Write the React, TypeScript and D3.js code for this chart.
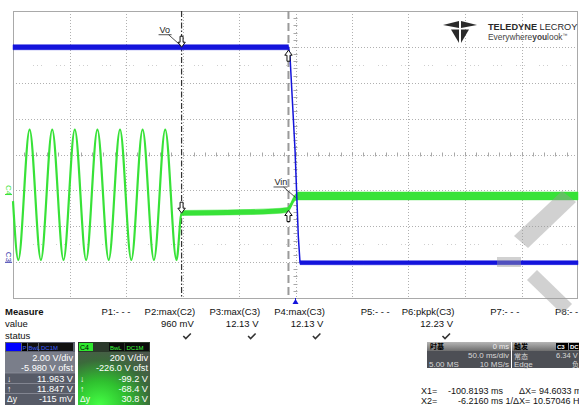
import React from "react";
import * as d3 from "d3";

// ---- scope settings ----
const timeDomain: [number, number] = [-250, 250]; // ms (50 ms/div)
const divDomain: [number, number] = [-4, 4];
const c3VoltsPerDiv = 2.0;
const c3Offset = -5.98;
const c4MvPerDiv = 200;
const c4Offset = -226;
const cursorX1 = -100.8193;
const cursorX2 = -6.216;
const triggerTime = 0;

// ---- C3 (Vo) trace, volts ----
const c3Time = [-250, -150, -60, -6.2, -4.9, -0.4, 2.5, 4.0, 60, 150, 250];
const c3Volts = [11.96, 11.96, 11.96, 11.96, 11.5, 6.2, 1.4, -0.05, -0.06, -0.05, -0.05];
const c3Band = [0.14, 0.14, 0.14, 0.14, 0, 0, 0, 0.11, 0.11, 0.11, 0.11];

// ---- C4 (Vin) trace, mV ----
const c4Time = [-250, -245.3, -235.3, -225.3, -215.3, -205.3, -195.3, -185.3, -175.3, -165.3, -155.3, -145.3, -135.3, -125.3, -115.3, -105.3, -100.8, -60, -20, -7.5, -4.9, -3.1, -1.3, 0.4, 2.2, 100, 250];
const c4Mv = [-34, -362, 365, -362, 365, -362, 365, -362, 365, -362, 365, -362, 365, -362, 365, -362, -100, -97, -90, -84, -66, -44, -22, -11, -5, -5, -5];
const c4Band = [0, 0, 0, 0, 0, 0, 0, 0, 0, 0, 0, 0, 0, 0, 0, 0, 14, 14, 14, 14, 14, 15, 16, 18, 22, 22, 22];

// ---- measurement table ----
const measureLabels = ["P1:- - -", "P2:max(C2)", "P3:max(C3)", "P4:max(C3)", "P5:- - -", "P6:pkpk(C3)", "P7:- - -", "P8:- - -"];
const measureValues = ["", "960 mV", "12.13 V", "12.13 V", "", "12.23 V", "", ""];
const measureStatus = [false, true, true, true, false, true, false, false];

// ---- channel descriptors ----
const c3Desc = ["2.00 V/div", "-5.980 V ofst"];
const c3Cursor = ["11.963 V", "11.847 V", "-115 mV"];
const c4Desc = ["200 V/div", "-226.0 V ofst"];
const c4Cursor = ["-99.2 V", "-68.4 V", "30.8 V"];
const cursorSymbols = ["↓", "↑", "Δy"];

// ---- timebase / trigger / cursors ----
const timebaseText = ["时基", "0 ms", "50.0 ms/div", "5.00 MS", "10 MS/s"];
const triggerText = ["触发", "C3", "DC", "常态", "6.34 V", "Edge", "负"];
const cursorReadLabels = ["X1=", "X2=", "ΔX=", "1/ΔX="];
const cursorReadValues = ["-100.8193 ms", "-6.2160 ms", "94.6033 ms", "10.57046 Hz"];

const BLUE = "#1414dc";
const GREEN = "#38e238";
const FONT = "'Liberation Sans', Arial, sans-serif";
const CJK = "'Noto Sans CJK SC', sans-serif";

function valueAt(times: number[], vals: number[], t: number) {
  const i = d3.bisectRight(times, t);
  const i0 = Math.max(0, i - 1);
  const i1 = Math.min(times.length - 1, i);
  if (i0 === i1) return vals[i0];
  const f = (t - times[i0]) / (times[i1] - times[i0]);
  return vals[i0] + f * (vals[i1] - vals[i0]);
}

function arrowDown(cx: number, tip: number) {
  return `M${cx - 1.5},${tip - 11} h3 v6 h2.2 l-3.7,5 l-3.7,-5 h2.2 z`;
}
function arrowUp(cx: number, tip: number) {
  return `M${cx - 1.5},${tip + 11} h3 v-6 h2.2 l-3.7,-5 l-3.7,5 h2.2 z`;
}

export default function App() {
  const x = d3.scaleLinear().domain(timeDomain).range([13, 578]);
  const yDiv = d3.scaleLinear().domain(divDomain).range([298, 11]);
  const yC3 = (v: number) => yDiv((v + c3Offset) / c3VoltsPerDiv);
  const yC4 = (mv: number) => yDiv((mv + c4Offset) / c4MvPerDiv);

  const c3 = c3Time.map((t, i) => ({ t, v: c3Volts[i], b: c3Band[i] }));
  const c4 = c4Time.map((t, i) => ({ t, v: c4Mv[i], b: c4Band[i] }));

  const c3Line = d3.line<any>().x((d) => x(d.t)).y((d) => yC3(d.v))(c3) || "";
  const c3Area =
    d3
      .area<any>()
      .defined((d) => d.b > 0)
      .x((d) => x(d.t))
      .y0((d) => yC3(d.v - d.b))
      .y1((d) => yC3(d.v + d.b))(c3) || "";
  const c4Line = d3.line<any>().curve(d3.curveMonotoneX).x((d) => x(d.t)).y((d) => yC4(d.v))(c4) || "";
  const c4Area =
    d3
      .area<any>()
      .curve(d3.curveMonotoneX)
      .defined((d) => d.b > 0)
      .x((d) => x(d.t))
      .y0((d) => yC4(d.v - d.b))
      .y1((d) => yC4(d.v + d.b))(c4) || "";

  const x0 = x.range()[0];
  const x1 = x.range()[1];
  const yTop = yDiv.range()[1];
  const yBot = yDiv.range()[0];
  const vGrid = d3.range(1, 10).map((i) => x(timeDomain[0] + i * 50));
  const hGrid = d3.range(-3, 4).map((d) => yDiv(d));
  const hTicks = d3.range(timeDomain[0] + 10, timeDomain[1], 10);
  const vTicks = d3.range(-3.8, 4, 0.2);

  const xc1 = x(cursorX1);
  const xc2 = x(cursorX2);
  const c3AtX1 = yC3(valueAt(c3Time, c3Volts, cursorX1));
  const c3AtX2 = yC3(valueAt(c3Time, c3Volts, cursorX2));
  const c4AtX1 = yC4(valueAt(c4Time, c4Mv, cursorX1));
  const c4AtX2 = yC4(valueAt(c4Time, c4Mv, cursorX2));
  const voPt = [xc1, c3AtX1 - 1];
  const vinPt = [x(triggerTime), yC4(valueAt(c4Time, c4Mv, triggerTime))];

  const colRight = (i: number) => 130.5 + 64.8 * i;

  return (
    <svg
      width={579}
      height={405}
      style={{ position: "fixed", left: 0, top: 0, background: "#fff" }}
      fontFamily={FONT}
    >
      <defs>
        <radialGradient id="c4grad" cx="0.3" cy="1" r="0.95">
          <stop offset="0%" stopColor="#44ff44" />
          <stop offset="40%" stopColor="#2fc02f" />
          <stop offset="75%" stopColor="#3b6a3b" />
          <stop offset="100%" stopColor="#4d574d" />
        </radialGradient>
        <linearGradient id="hdr" x1="0" y1="0" x2="0" y2="1">
          <stop offset="0%" stopColor="#b5b5b5" />
          <stop offset="100%" stopColor="#6e6e6e" />
        </linearGradient>
      </defs>
      <rect x={0} y={0} width={579} height={405} fill="#fff" />

      {/* grid */}
      <g stroke="#b0b0b0" strokeWidth={1} strokeDasharray="1,2">
        {vGrid.map((gx, i) => (
          <line key={"v" + i} x1={Math.round(gx) + 0.5} x2={Math.round(gx) + 0.5} y1={yTop} y2={yBot} />
        ))}
        {hGrid.map((gy, i) => (
          <line key={"h" + i} x1={x0} x2={x1} y1={Math.round(gy) + 0.5} y2={Math.round(gy) + 0.5} />
        ))}
      </g>
      <g stroke="#cfcfcf" strokeWidth={1} strokeDasharray="1,3,1,3,1,14">
        {[2.5, -2.5].map((d) => (
          <line key={d} x1={x0 + 20} x2={x1} y1={Math.round(yDiv(d)) + 0.5} y2={Math.round(yDiv(d)) + 0.5} />
        ))}
      </g>
      <g stroke="#a8a8a8" strokeWidth={1}>
        {hTicks.map((t) => (
          <line key={"ht" + t} x1={Math.round(x(t)) + 0.5} x2={Math.round(x(t)) + 0.5} y1={yDiv(0) - 2} y2={yDiv(0) + 2} />
        ))}
        {vTicks.map((d) => (
          <line key={"vt" + d} x1={x(0) - 2} x2={x(0) + 2} y1={Math.round(yDiv(d)) + 0.5} y2={Math.round(yDiv(d)) + 0.5} />
        ))}
      </g>
      <rect x={x0 + 0.5} y={yTop + 0.5} width={x1 - x0 - 1} height={yBot - yTop} fill="none" stroke="#a9a9a9" />

      {/* cursors */}
      <line x1={xc1} x2={xc1} y1={yTop} y2={yBot} stroke="#333" strokeWidth={1.2} strokeDasharray="6,2,1.5,2" />
      <line x1={xc2} x2={xc2} y1={yTop} y2={yBot} stroke="#9a9a9a" strokeWidth={2} strokeDasharray="8,4" />

      {/* traces */}
      <path d={c4Line} fill="none" stroke={GREEN} strokeWidth={2.2} />
      <path d={c4Area} fill={GREEN} stroke={GREEN} strokeWidth={0.5} />
      <path d={c3Line} fill="none" stroke={BLUE} strokeWidth={1.5} />
      <path d={c3Area} fill={BLUE} stroke={BLUE} strokeWidth={0.5} />

      {/* cursor markers */}
      <g fill="#fff" stroke="#111" strokeWidth={1}>
        <path d={arrowDown(xc1, c3AtX1)} />
        <path d={arrowUp(xc2, c3AtX2 + 3)} />
        <path d={arrowDown(xc1, c4AtX1)} />
        <path d={arrowUp(xc2, c4AtX2 + 2)} />
      </g>

      {/* annotations */}
      <g fontSize={9} fill="#222" stroke="none">
        <text x={voPt[0] - 22} y={voPt[1] - 13}>Vo</text>
        <text x={vinPt[0] - 21} y={vinPt[1] - 12}>Vin</text>
      </g>
      <g stroke="#222" strokeWidth={0.8}>
        <line x1={voPt[0] - 23} x2={voPt[0] - 10} y1={voPt[1] - 11.5} y2={voPt[1] - 11.5} />
        <line x1={voPt[0] - 13} x2={voPt[0]} y1={voPt[1] - 11.5} y2={voPt[1]} />
        <line x1={vinPt[0] - 22} x2={vinPt[0] - 8} y1={vinPt[1] - 10.5} y2={vinPt[1] - 10.5} />
        <line x1={vinPt[0] - 12} x2={vinPt[0]} y1={vinPt[1] - 10.5} y2={vinPt[1]} />
      </g>

      {/* channel ground markers */}
      <text transform={`translate(6,${yC4(0) - 10}) rotate(90)`} fontSize={8} fill={GREEN}>C4</text>
      <line x1={5} x2={12} y1={yC4(0) - 0.5} y2={yC4(0) - 0.5} stroke={GREEN} strokeWidth={1} />
      <text transform={`translate(6,${yC3(0) - 10}) rotate(90)`} fontSize={8} fill="#3333aa">C3</text>
      <line x1={5} x2={12} y1={yC3(0) + 0.5} y2={yC3(0) + 0.5} stroke="#3333aa" strokeWidth={1} />

      {/* trigger time marker */}
      <line x1={x(triggerTime)} x2={x(triggerTime)} y1={yBot} y2={yBot + 3} stroke={BLUE} />
      <path d={`M${x(triggerTime)},${yBot + 1} l3,5 h-6 z`} fill={BLUE} />

      {/* logo */}
      <g fill="#2a2a2a">
        <path d="M443,25 L459,21 L459,28 Z" />
        <path d="M477,25 L461,21 L461,28 Z" />
        <path d="M451,29.5 L459,29.5 L459,43 Z" />
        <path d="M469,29.5 L461,29.5 L461,43 Z" />
      </g>
      <text x={488} y={30} fontSize={9.2} fill="#2a2a2a">
        <tspan fontWeight="bold">TELEDYNE</tspan>
        <tspan> LECROY</tspan>
      </text>
      <text x={488} y={40} fontSize={8.4} fill="#444">
        <tspan>Everywhere</tspan>
        <tspan fontWeight="bold">you</tspan>
        <tspan>look</tspan>
        <tspan fontSize={5} dy={-3}>™</tspan>
      </text>

      {/* measurement table */}
      <g fontSize={9.5} fill="#111">
        <text x={5} y={315} fontWeight="bold">Measure</text>
        <text x={5} y={327}>value</text>
        <text x={5} y={339}>status</text>
        {measureLabels.map((l, i) => (
          <text key={l} x={colRight(i)} y={315} textAnchor="end">{l}</text>
        ))}
        {measureValues.map((v, i) =>
          v ? (
            <text key={"mv" + i} x={colRight(i) - 1.5} y={327} textAnchor="end">{v}</text>
          ) : null
        )}
        {measureStatus.map((s, i) =>
          s ? (
            <path key={"ms" + i} d={`M${colRight(i) - 12},${336} l2.5,2.5 l5,-5`} fill="none" stroke="#333" strokeWidth={1.6} />
          ) : null
        )}
      </g>

      {/* C3 descriptor */}
      <g>
        <rect x={5} y={342} width={70} height={31} fill="#7a7e8a" />
        <rect x={5} y={373} width={70} height={32} fill="#575b67" />
        <rect x={5} y={342} width={70} height={10} fill="#5c6070" />
        <rect x={6} y={343} width={15} height={8} fill="#0000ff" />
        <rect x={22} y={343} width={5} height={8} fill="#000" />
        <rect x={28} y={343} width={10} height={8} fill="#111" />
        <rect x={39} y={343} width={34} height={8} fill="#111" />
        <g fontSize={6} fill="#3a5cff">
          <text x={22.5} y={349.5}>P</text>
          <text x={28.5} y={349.5}>BwL</text>
          <text x={41} y={349.5}>DC1M</text>
        </g>
        <g stroke="#8d919c" strokeWidth={0.8}>
          <line x1={5} x2={75} y1={383.5} y2={383.5} />
          <line x1={5} x2={75} y1={393.5} y2={393.5} />
          <line x1={5} x2={75} y1={373} y2={373} />
        </g>
        <g fontSize={9.2} fill="#fff">
          <text x={73} y={361} textAnchor="end">{c3Desc[0]}</text>
          <text x={73} y={370.5} textAnchor="end">{c3Desc[1]}</text>
          {c3Cursor.map((c, i) => (
            <text key={c} x={73} y={381.5 + i * 10} textAnchor="end">{c}</text>
          ))}
          {cursorSymbols.map((s, i) => (
            <text key={s} x={7} y={381.5 + i * 10} fontSize={8.5}>{s}</text>
          ))}
        </g>
      </g>

      {/* C4 descriptor */}
      <g>
        <rect x={78} y={342} width={72} height={63} fill="url(#c4grad)" />
        <rect x={78} y={342} width={72} height={10} fill="#2b3a2b" />
        <rect x={79} y={343} width={14} height={8} fill="#2ee82e" />
        <rect x={109} y={343} width={15} height={8} fill="#0b0b0b" />
        <rect x={125} y={343} width={24} height={8} fill="#0b0b0b" />
        <text x={80} y={350} fontSize={7} fill="#000">C4</text>
        <g fontSize={6} fill="#3cff3c">
          <text x={110} y={349.5}>BwL</text>
          <text x={126.5} y={349.5}>DC1M</text>
        </g>
        <g fontSize={9.2} fill="#fff">
          <text x={148} y={361} textAnchor="end">{c4Desc[0]}</text>
          <text x={148} y={370.5} textAnchor="end">{c4Desc[1]}</text>
          {c4Cursor.map((c, i) => (
            <text key={c} x={148} y={381.5 + i * 10} textAnchor="end">{c}</text>
          ))}
          {cursorSymbols.map((s, i) => (
            <text key={s} x={80} y={381.5 + i * 10} fontSize={8.5}>{s}</text>
          ))}
        </g>
      </g>

      {/* timebase box */}
      <g>
        <rect x={427} y={342} width={84} height={26} fill="#4d4f55" />
        <rect x={427} y={342} width={84} height={9} fill="url(#hdr)" />
        <text x={430} y={349.3} fontSize={7} fontWeight="bold" fill="#000" fontFamily={CJK}>{timebaseText[0]}</text>
        <text x={509} y={349.3} fontSize={7.5} textAnchor="end" fill="#eee">{timebaseText[1]}</text>
        <text x={509} y={358.3} fontSize={8} textAnchor="end" fill="#d8d8d8">{timebaseText[2]}</text>
        <text x={429} y={366.5} fontSize={8} fill="#d8d8d8">{timebaseText[3]}</text>
        <text x={509} y={366.5} fontSize={8} textAnchor="end" fill="#d8d8d8">{timebaseText[4]}</text>
      </g>

      {/* trigger box */}
      <g>
        <rect x={512} y={342} width={70} height={26} fill="#4d4f55" />
        <rect x={512} y={342} width={70} height={9} fill="url(#hdr)" />
        <text x={514} y={349.3} fontSize={7} fontWeight="bold" fill="#000" fontFamily={CJK}>{triggerText[0]}</text>
        <rect x={556} y={343} width={12} height={7} fill="#000" />
        <rect x={569} y={343} width={12} height={7} fill="#000" />
        <text x={557} y={349} fontSize={6} fill="#fff" fontWeight="bold">{triggerText[1]}</text>
        <text x={570} y={349} fontSize={6} fill="#fff" fontWeight="bold">{triggerText[2]}</text>
        <text x={514} y={358.5} fontSize={7} fill="#d8d8d8" fontFamily={CJK}>{triggerText[3]}</text>
        <text x={556} y={358.2} fontSize={7.5} fill="#d8d8d8">{triggerText[4]}</text>
        <text x={514} y={366.8} fontSize={8} fill="#d8d8d8">{triggerText[5]}</text>
        <text x={572} y={367.3} fontSize={7} fill="#d8d8d8" fontFamily={CJK}>{triggerText[6]}</text>
      </g>

      {/* cursor readouts */}
      <g fontSize={9} fill="#111">
        <text x={421} y={394}>{cursorReadLabels[0]}</text>
        <text x={421} y={403.5}>{cursorReadLabels[1]}</text>
        <text x={503} y={394} textAnchor="end">{cursorReadValues[0]}</text>
        <text x={503} y={403.5} textAnchor="end">{cursorReadValues[1]}</text>
        <text x={519} y={394}>{cursorReadLabels[2]}</text>
        <text x={505.5} y={403.5}>{cursorReadLabels[3]}</text>
        <text x={539} y={394}>{cursorReadValues[2]}</text>
        <text x={533} y={403.5}>{cursorReadValues[3]}</text>
      </g>

      {/* watermark strokes (light, translucent) */}
      <g fill="#9a9a9a" opacity={0.45}>
        <path d="M514,236 L562,191 L576,202 L528,248 Z" />
        <path d="M497,257 L521,257 L521,267 L497,267 Z" />
        <path d="M527,280 L537,270 L572,304 L562,314 Z" />
      </g>
    </svg>
  );
}
